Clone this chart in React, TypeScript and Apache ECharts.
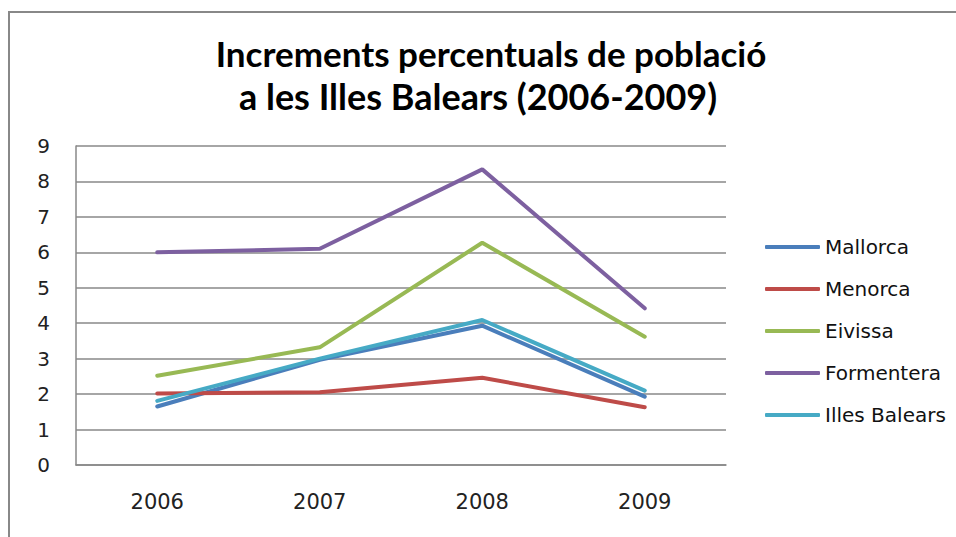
import React, { useEffect, useRef } from "react";
import * as echarts from "echarts";

const years = ["2006", "2007", "2008", "2009"];
const mallorca = [1.65, 2.97, 3.93, 1.93];
const menorca = [2.02, 2.05, 2.46, 1.63];
const eivissa = [2.52, 3.32, 6.27, 3.62];
const formentera = [6.0, 6.1, 8.34, 4.42];
const illesBalears = [1.81, 3.0, 4.09, 2.1];
const seriesNames = ["Mallorca", "Menorca", "Eivissa", "Formentera", "Illes Balears"];
const colors = ["#4A7EBB", "#BE4B48", "#98B954", "#7D60A0", "#46AAC5"];
const titleLine1 = "Increments percentuals de població";
const titleLine2 = "a les Illes Balears (2006-2009)";

export default function App() {
  const ref = useRef<HTMLDivElement>(null);
  useEffect(() => {
    if (!ref.current) return;
    const chart = echarts.init(ref.current, undefined, { renderer: "svg" });
    const dataSets = [mallorca, menorca, eivissa, formentera, illesBalears];
    chart.setOption({
      animation: false,
      backgroundColor: "#ffffff",
      title: [
        {
          text: titleLine1,
          left: 486,
          top: 30,
          textAlign: "center",
          textStyle: { fontFamily: "Lato", fontWeight: "bold", fontSize: 35, color: "#000" },
        },
        {
          text: titleLine2,
          left: 473,
          top: 73,
          textAlign: "center",
          textStyle: { fontFamily: "Lato", fontWeight: "bold", fontSize: 36, color: "#000" },
        },
      ],
      graphic: [
        {
          type: "rect",
          shape: { x: 9, y: 12, width: 1000, height: 600 },
          style: { fill: "none", stroke: "#888888", lineWidth: 2 },
          silent: true,
        },
      ],
      legend: {
        orient: "vertical",
        left: 765,
        top: 237,
        padding: 0,
        itemWidth: 55,
        itemHeight: 4,
        itemGap: 22,
        icon: "roundRect",
        data: seriesNames,
        textStyle: { fontFamily: "DejaVu Sans", fontSize: 20, color: "#111", lineHeight: 20 },
      },
      grid: { left: 76, right: 230, top: 146, bottom: 72 },
      xAxis: {
        type: "category",
        data: years,
        boundaryGap: true,
        axisLine: { lineStyle: { color: "#888888", width: 1.5 } },
        axisTick: { show: false },
        axisLabel: { fontFamily: "DejaVu Sans", fontSize: 21, color: "#222", margin: 26 },
      },
      yAxis: {
        type: "value",
        min: 0,
        max: 9,
        interval: 1,
        axisLine: { show: true, lineStyle: { color: "#888888", width: 1.5 } },
        axisTick: { show: false },
        splitLine: { lineStyle: { color: "#888888", width: 1.5 } },
        axisLabel: { fontFamily: "DejaVu Sans", fontSize: 20, color: "#222", margin: 26 },
      },
      series: seriesNames.map((name, i) => ({
        name,
        type: "line",
        data: dataSets[i],
        symbol: "none",
        color: colors[i],
        lineStyle: { width: 4, color: colors[i], cap: "round" },
      })),
    });
    return () => chart.dispose();
  }, []);
  return (
    <div
      ref={ref}
      style={{ position: "fixed", left: 0, top: 0, width: 956, height: 537 }}
    />
  );
}
